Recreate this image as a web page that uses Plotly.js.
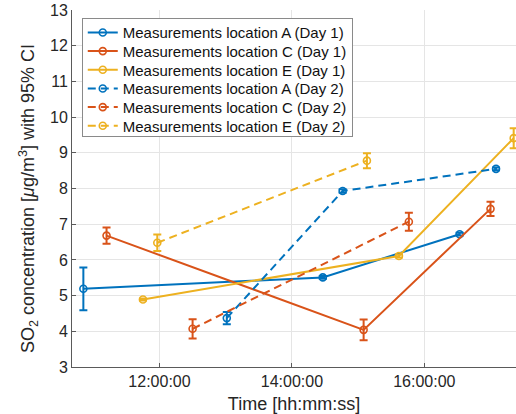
<!DOCTYPE html>
<html>
<head>
<meta charset="utf-8">
<script src="https://cdn.plot.ly/plotly-3.0.1.min.js"></script>
<style>html,body{margin:0;padding:0;background:#fff;}#chart{width:516px;height:414px;}</style>
</head>
<body>
<div id="chart"></div>
<script>
// Data (clock times, hh:mm)
const timesA1 = ["10:51", "14:28", "16:32"];
const valsA1  = [5.19, 5.51, 6.72];
const errA1   = [0.60, 0.04, 0.04];

const timesC1 = ["11:12", "15:05", "17:00"];
const valsC1  = [6.68, 4.04, 7.43];
const errC1   = [0.23, 0.29, 0.20];

const timesE1 = ["11:45", "15:37", "17:21"];
const valsE1  = [4.89, 6.11, 9.41];
const errE1   = [0.03, 0.04, 0.28];

const timesA2 = ["13:01", "14:46", "17:05"];
const valsA2  = [4.37, 7.93, 8.55];
const errA2   = [0.17, 0.05, 0.04];

const timesC2 = ["12:30", "15:46"];
const valsC2  = [4.07, 7.07];
const errC2   = [0.27, 0.25];

const timesE2 = ["11:58", "15:08"];
const valsE2  = [6.48, 8.78];
const errE2   = [0.23, 0.21];

const names = [
  "Measurements location A (Day 1)",
  "Measurements location C (Day 1)",
  "Measurements location E (Day 1)",
  "Measurements location A (Day 2)",
  "Measurements location C (Day 2)",
  "Measurements location E (Day 2)"
];

const day = "2021-01-01 ";
const toDate = arr => arr.map(t => day + t + ":00");

const cBlue = "#0072BD", cRed = "#D95319", cYel = "#EDB120";

function mk(times, vals, errs, name, color, dash) {
  return {
    x: toDate(times), y: vals, name: name, type: "scatter", mode: "lines+markers",
    line: {color: color, width: 2, dash: dash},
    marker: {symbol: "circle-open", size: 7, color: color, line: {width: 1.6, color: color}},
    error_y: {type: "data", array: errs, visible: true, color: color, thickness: 2, width: 4},
    cliponaxis: false
  };
}

const dashStyle = "8px,5px";
const data = [
  mk(timesA1, valsA1, errA1, names[0], cBlue, "solid"),
  mk(timesC1, valsC1, errC1, names[1], cRed, "solid"),
  mk(timesE1, valsE1, errE1, names[2], cYel, "solid"),
  mk(timesA2, valsA2, errA2, names[3], cBlue, dashStyle),
  mk(timesC2, valsC2, errC2, names[4], cRed, dashStyle),
  mk(timesE2, valsE2, errE2, names[5], cYel, dashStyle)
];

const font = "Liberation Sans, Arial, Helvetica, sans-serif";

const layout = {
  width: 516, height: 414,
  margin: {l: 72, r: 0, t: 10, b: 47},
  paper_bgcolor: "#fff", plot_bgcolor: "#fff",
  font: {family: font, color: "#262626", size: 16},
  showlegend: true,
  legend: {
    x: 0.022, y: 0.977, xanchor: "left", yanchor: "top",
    bgcolor: "#fff", bordercolor: "#8a8a8a", borderwidth: 1,
    font: {family: font, size: 15, color: "#111"},
    itemwidth: 30, tracegroupgap: 0
  },
  xaxis: {
    type: "date",
    range: [day + "10:40:42", day + "17:23:06"],
    tick0: day + "12:00:00", dtick: 7200000,
    tickformat: "%H:%M:%S",
    showgrid: true, gridcolor: "#e5e5e5", gridwidth: 1,
    showline: true, linecolor: "#5a5a5a", linewidth: 1,
    ticks: "inside", ticklen: 4, tickcolor: "#5a5a5a",
    zeroline: false,
    tickfont: {size: 16, color: "#262626"},
    title: {text: "Time [hh:mm:ss]", font: {size: 18, color: "#262626"}, standoff: 10}
  },
  yaxis: {
    range: [3, 13], dtick: 1, tick0: 3,
    showgrid: true, gridcolor: "#e5e5e5", gridwidth: 1,
    showline: true, linecolor: "#5a5a5a", linewidth: 1,
    ticks: "inside", ticklen: 4, tickcolor: "#5a5a5a",
    zeroline: false,
    tickfont: {size: 16, color: "#262626"},
    title: {text: "SO<sub>2</sub> concentration [<i>μ</i>g/m<sup>3</sup>] with 95% CI&nbsp;&nbsp;&nbsp;&nbsp;", font: {size: 18, color: "#262626"}, standoff: 10}
  }
};

function tightenLegend(gd) {
  const traces = gd.querySelectorAll(".legend .traces");
  if (!traces.length) return;
  const parse = t => {
    const m = /translate\(\s*([-\d.]+)[ ,]+([-\d.]+)/.exec(t.getAttribute("transform") || "");
    return m ? [parseFloat(m[1]), parseFloat(m[2])] : [0, 0];
  };
  const first = parse(traces[0]);
  const spacing = 18.66;
  const y0 = first[1] - 3;
  traces.forEach((t, i) => {
    const p = parse(t);
    t.setAttribute("transform", "translate(" + p[0] + "," + (y0 + i * spacing) + ")");
  });
  const bg = gd.querySelector(".legend .bg");
  if (bg) bg.setAttribute("height", y0 + (traces.length - 1) * spacing + 10.7);
}

Plotly.newPlot("chart", data, layout, {displayModeBar: false, responsive: false}).then(tightenLegend);
</script>
</body>
</html>
